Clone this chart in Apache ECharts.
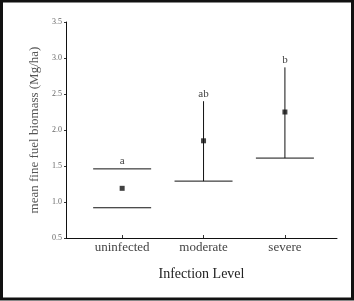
<!DOCTYPE html>
<html>
<head>
<meta charset="utf-8">
<script src="https://cdn.jsdelivr.net/npm/echarts@6/dist/echarts.min.js"></script>
<style>
html,body{margin:0;padding:0;background:#fff;}
#chart{width:354px;height:301px;}
</style>
</head>
<body>
<div id="chart"></div>
<script>
// groups and summary values
var categories = ['uninfected', 'moderate', 'severe'];
var groupPos = [1, 2, 3];
var means = [1.19, 1.85, 2.25];
var lower = [0.92, 1.29, 1.61];
var upper = [1.46, 2.40, 2.87];
var upperCap = [1, 0, 0]; // 1 = upper bound shown as a bar, 0 = as a stem
var letters = ['a', 'ab', 'b'];

var serif = '"Liberation Serif", "DejaVu Serif", serif';

var errData = [];
var meanData = [];
for (var i = 0; i < categories.length; i++) {
	errData.push([groupPos[i], lower[i], upper[i], upperCap[i], i]);
	meanData.push([groupPos[i], means[i]]);
}

function renderErr(params, api) {
	var x = api.value(0);
	var pLo = api.coord([x, api.value(1)]);
	var pHi = api.coord([x, api.value(2)]);
	var half = 29;
	var st = {stroke: '#111', lineWidth: 1};
	var kids = [{
		type: 'line',
		shape: {x1: pLo[0] - half, y1: pLo[1], x2: pLo[0] + half, y2: pLo[1]},
		style: st
	}];
	if (api.value(3) == 1) {
		kids.push({type: 'line', shape: {x1: pHi[0] - half, y1: pHi[1], x2: pHi[0] + half, y2: pHi[1]}, style: st});
	} else {
		kids.push({type: 'line', shape: {x1: pLo[0], y1: pLo[1], x2: pHi[0], y2: pHi[1]}, style: st});
	}
	kids.push({
		type: 'text',
		style: {
			text: letters[api.value(4)],
			x: pHi[0], y: pHi[1] - 2,
			align: 'center', verticalAlign: 'bottom',
			font: '11px ' + serif,
			fill: '#444'
		}
	});
	return {type: 'group', children: kids};
}

var chart = echarts.init(document.getElementById('chart'));
chart.setOption({
	backgroundColor: '#fff',
	animation: false,
	grid: {left: 66, right: 17, top: 22, bottom: 63},
	graphic: [{
		type: 'rect',
		shape: {x: 1.5, y: 1, width: 351, height: 298},
		style: {fill: 'none', stroke: '#111', lineWidth: 3},
		z: 100
	}],
	xAxis: {
		type: 'value',
		min: 0.31,
		max: 3.64,
		splitLine: {show: false},
		axisLine: {lineStyle: {color: '#111', width: 1}},
		axisTick: {inside: true, length: 3, customValues: groupPos, lineStyle: {color: '#333'}},
		axisLabel: {
			customValues: groupPos,
			margin: 3,
			fontFamily: serif,
			fontSize: 13,
			color: '#444',
			formatter: function (v) { return categories[Math.round(v) - 1]; }
		},
		name: 'Infection Level',
		nameLocation: 'middle',
		nameGap: 29,
		nameTextStyle: {fontFamily: serif, fontSize: 14, color: '#222'}
	},
	yAxis: {
		type: 'value',
		min: 0.5,
		max: 3.5,
		interval: 0.5,
		splitLine: {show: false},
		axisLine: {show: true, lineStyle: {color: '#111', width: 1}},
		axisTick: {show: true, length: 2, lineStyle: {color: '#333'}},
		axisLabel: {
			margin: 4,
			fontFamily: serif,
			fontSize: 8,
			color: '#666',
			formatter: function (v) { return v.toFixed(1); }
		},
		name: 'mean fine fuel biomass (Mg/ha)',
		nameLocation: 'middle',
		nameGap: 22,
		nameTextStyle: {fontFamily: serif, fontSize: 13, color: '#555'}
	},
	series: [{
		type: 'custom',
		renderItem: renderErr,
		data: errData,
		silent: true
	}, {
		type: 'scatter',
		data: meanData,
		symbol: 'rect',
		symbolSize: 5,
		itemStyle: {color: '#111'},
		silent: true
	}]
});
</script>
</body>
</html>
